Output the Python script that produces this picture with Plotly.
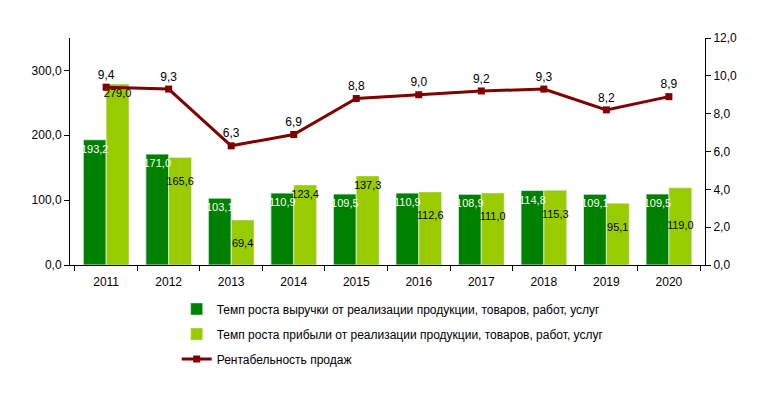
import plotly.graph_objects as go

years = ["2011", "2012", "2013", "2014", "2015", "2016", "2017", "2018", "2019", "2020"]
revenue_growth = [193.2, 171.0, 103.1, 110.9, 109.5, 110.9, 108.9, 114.8, 109.1, 109.5]
profit_growth = [279.0, 165.6, 69.4, 123.4, 137.3, 112.6, 111.0, 115.3, 95.1, 119.0]
profitability = [9.4, 9.3, 6.3, 6.9, 8.8, 9.0, 9.2, 9.3, 8.2, 8.9]

name_rev = "Темп роста выручки от реализации продукции, товаров, работ, услуг"
name_prof = "Темп роста прибыли от реализации продукции, товаров, работ, услуг"
name_line = "Рентабельность продаж"

# label styling for the light bars (blank leading lines drop a label lower, as in the original)
L0 = "%{y:.1f}"
L1 = "\u00a0<br>%{y:.1f}"
L2 = "\u00a0<br>\u00a0<br>%{y:.1f}"
profit_label_templates = [L0, L1, L1, L0, L0, L1, L1, L1, L1, L2]

FONT = "Liberation Sans, Arial, sans-serif"

fig = go.Figure()
fig.add_trace(go.Bar(
    x=years, y=revenue_growth, name=name_rev, marker_color="#008000",
    offsetgroup="rev", legendgroup="a", yaxis="y",
))
fig.add_trace(go.Bar(
    x=years, y=profit_growth, name=name_prof, marker_color="#99CC00",
    texttemplate=profit_label_templates, textposition="inside", insidetextanchor="end",
    constraintext="none", textangle=0,
    textfont=dict(color="black", size=11, family=FONT),
    offsetgroup="prof", legendgroup="b", yaxis="y",
))
# transparent overlay of the revenue bars carrying their labels above the light bars
fig.add_trace(go.Bar(
    x=years, y=revenue_growth, name=name_rev, marker_color="rgba(0,0,0,0)",
    texttemplate="%{y:.1f}", textposition="inside", insidetextanchor="end",
    constraintext="none", textangle=0,
    textfont=dict(color="white", size=11, family=FONT),
    offsetgroup="rev", showlegend=False, hoverinfo="skip", yaxis="y",
))
fig.add_trace(go.Scatter(
    x=years, y=profitability, name=name_line, mode="lines+markers+text",
    line=dict(color="#800000", width=3),
    marker=dict(symbol="square", size=7, color="#800000"),
    texttemplate="%{y:.1f}", textposition="top center",
    textfont=dict(color="black", size=12, family=FONT),
    legendgroup="c", yaxis="y2", cliponaxis=False,
))

fig.update_layout(
    width=767, height=390,
    margin=dict(l=62, r=70, t=30, b=133, autoexpand=False),
    paper_bgcolor="white", plot_bgcolor="white",
    font=dict(family=FONT, size=12, color="black"),
    separators=", ",
    barmode="group", bargap=0.27, bargroupgap=0,
    showlegend=True,
    legend=dict(
        orientation="v", x=0.168, xanchor="left", y=-0.13, yanchor="top",
        font=dict(size=12, family=FONT), tracegroupgap=6,
        bgcolor="rgba(0,0,0,0)",
    ),
    xaxis=dict(
        type="category", showline=True, linecolor="black", linewidth=1,
        ticks="outside", tickson="boundaries", ticklen=5, tickcolor="black",
        showgrid=False, tickfont=dict(size=12), automargin=False,
        ticklabelstandoff=6,
    ),
    yaxis=dict(
        range=[0, 350], tickvals=[0, 100, 200, 300], tickformat=".1f",
        showline=True, linecolor="black", linewidth=1,
        ticks="outside", ticklen=5, tickcolor="black",
        showgrid=False, zeroline=False, tickfont=dict(size=12), automargin=False,
    ),
    yaxis2=dict(
        range=[0, 12], dtick=2, tickformat=".1f", overlaying="y", side="right",
        showline=True, linecolor="black", linewidth=1,
        ticks="outside", ticklen=5, tickcolor="black",
        showgrid=False, zeroline=False, tickfont=dict(size=12), automargin=False,
    ),
)

fig.write_html("out.html")
